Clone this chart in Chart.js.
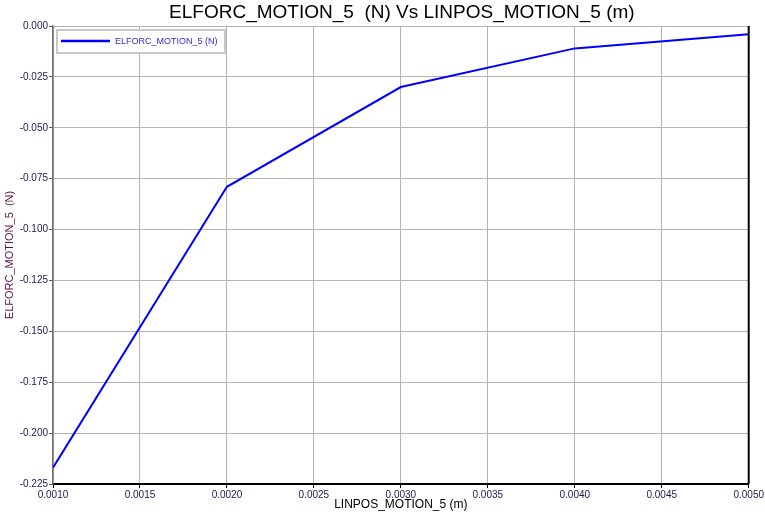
<!DOCTYPE html>
<html>
<head>
<meta charset="utf-8">
<title>ELFORC_MOTION_5 vs LINPOS_MOTION_5</title>
<script src="https://cdn.jsdelivr.net/npm/chart.js@4.4.1/dist/chart.umd.min.js"></script>
<style>
    body { margin: 0; background: #fff; }
</style>
</head>
<body>
<canvas id="force-chart" width="765" height="514"></canvas>
<script>
// data

const seriesName = "ELFORC_MOTION_5 (N)";
const chartTitle = "ELFORC_MOTION_5  (N) Vs LINPOS_MOTION_5 (m)";
const positions = [0.001, 0.002, 0.003, 0.004, 0.005];
const forces = [-0.217, -0.079, -0.030, -0.011, -0.004];

const fontFamily = "'Liberation Sans', Arial, sans-serif";

// title centred on the plot, frame + legend box drawn on top of the plot area
const framePlugin = {
    id: 'frame',
    afterDatasetsDraw(chart) {
        const ctx = chart.ctx;
        const a = chart.chartArea;
        ctx.save();

        // title
        ctx.fillStyle = '#000';
        ctx.font = '19px ' + fontFamily;
        ctx.textAlign = 'center';
        ctx.textBaseline = 'middle';
        ctx.fillText(chartTitle, (a.left + a.right) / 2 + 1, 12.5);
        ctx.textAlign = 'left';

        // right border
        ctx.strokeStyle = '#000';
        ctx.lineWidth = 2;
        ctx.beginPath();
        ctx.moveTo(a.right, a.top);
        ctx.lineTo(a.right, a.bottom);
        ctx.stroke();

        // legend
        const lx = a.left + 4, ly = a.top + 4;
        ctx.fillStyle = '#fff';
        ctx.fillRect(lx, ly, 168, 23);
        ctx.strokeStyle = '#c8c8c8';
        ctx.lineWidth = 2;
        ctx.strokeRect(lx, ly, 168, 23);
        ctx.strokeStyle = '#0000ff';
        ctx.lineWidth = 2.5;
        ctx.beginPath();
        ctx.moveTo(lx + 4, ly + 11);
        ctx.lineTo(lx + 53, ly + 11);
        ctx.stroke();
        ctx.fillStyle = '#3a1fd0';
        ctx.font = '9px ' + fontFamily;
        ctx.fillText(chart.data.datasets[0].label, lx + 58, ly + 11.5);
        ctx.restore();
    }
};

const forceCanvas = document.getElementById("force-chart");

const forceData = {
    datasets: [{
        label: seriesName,
        data: positions.map((p, i) => ({ x: p, y: forces[i] })),
        borderColor: '#0000ff',
        borderWidth: 2,
        pointRadius: 0,
        tension: 0,
        fill: false
    }]
};

const forceOptions = {
    responsive: false,
    animation: false,
    layout: {
        padding: { left: 0, right: 16, top: 26, bottom: 0 }
    },
    scales: {
        x: {
            type: 'linear',
            min: 0.001,
            max: 0.005,
            afterFit: scale => { scale.height = 30; },
            ticks: {
                stepSize: 0.0005,
                padding: 1,
                maxRotation: 0,
                color: '#1a1a50',
                font: { family: fontFamily, size: 10 },
                callback: v => v.toFixed(4)
            },
            grid: {
                color: '#b4b4b4',
                tickColor: '#000',
                tickLength: 4
            },
            border: { color: '#000', width: 2 },
            title: {
                display: true,
                text: 'LINPOS_MOTION_5 (m)',
                color: '#000',
                font: { family: fontFamily, size: 12 },
                padding: { top: 0, bottom: 1.8 }
            }
        },
        y: {
            min: -0.225,
            max: 0,
            afterFit: scale => { scale.width = 53; },
            ticks: {
                stepSize: 0.025,
                padding: 1,
                color: '#1a1a50',
                font: { family: fontFamily, size: 10 },
                callback: v => v.toFixed(3)
            },
            grid: {
                color: '#b4b4b4',
                tickColor: '#555',
                tickLength: 4
            },
            border: { color: '#707070', width: 1.5 },
            title: {
                display: true,
                text: 'ELFORC_MOTION_5  (N)',
                color: '#5c1040',
                font: { family: fontFamily, size: 11 },
                padding: { top: 3.4, bottom: 0 }
            }
        }
    },
    plugins: {
        legend: { display: false },
        tooltip: { enabled: false },
        title: { display: false }
    }
};

let forceChart = new Chart(forceCanvas, {
    type: 'line',
    data: forceData,
    options: forceOptions,
    plugins: [framePlugin]
});
</script>
</body>
</html>
